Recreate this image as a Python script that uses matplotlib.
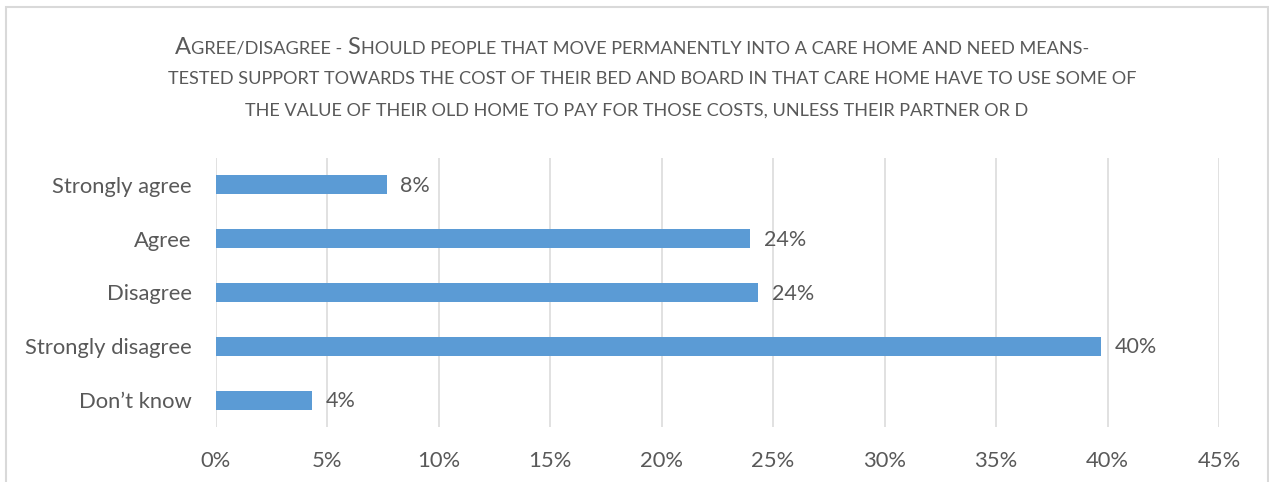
import matplotlib
matplotlib.use("Agg")
import matplotlib.pyplot as plt
from matplotlib.offsetbox import TextArea, HPacker, AnnotationBbox
from matplotlib.patches import Rectangle
from matplotlib.ticker import FuncFormatter, MultipleLocator

# Survey responses (share of respondents)
categories = ["Strongly agree", "Agree", "Disagree", "Strongly disagree", "Don\u2019t know"]
shares = [0.0767, 0.2398, 0.2432, 0.3970, 0.0433]

# Title runs: (text, is_capital) to imitate small caps
title_lines = [
    [("A", True), ("GREE/DISAGREE -", False), (" S", True),
     ("HOULD PEOPLE THAT MOVE PERMANENTLY INTO A CARE HOME AND NEED MEANS-", False)],
    [("TESTED SUPPORT TOWARDS THE COST OF THEIR BED AND BOARD IN THAT CARE HOME HAVE TO USE SOME OF", False)],
    [("THE VALUE OF THEIR OLD HOME TO PAY FOR THOSE COSTS, UNLESS THEIR PARTNER OR D", False)],
]

W, H, DPI = 1269, 482, 100
FONT = "Lato"
TEXT = "#595959"
BAR = "#5B9BD5"
GRID = "#D9D9D9"

plt.rcParams["font.family"] = [FONT, "DejaVu Sans"]

fig = plt.figure(figsize=(W / DPI, H / DPI), dpi=DPI)
fig.patch.set_facecolor("white")

# chart-area frame
fig.patches.append(Rectangle((6.5 / W, -0.1), (1267.5 - 6.5) / W, 1.1 - 7 / H,
                             transform=fig.transFigure, fill=False,
                             edgecolor=GRID, linewidth=1.5))

ax = fig.add_axes([215.5 / W, 1 - 427 / H, (1219 - 215.5) / W, (427 - 158) / H])
y = list(range(len(categories)))
bars = ax.barh(y, shares, height=0.35, color=BAR, zorder=3)
ax.set_ylim(len(categories) - 0.5, -0.5)
ax.set_xlim(0, 0.45)
ax.xaxis.set_major_locator(MultipleLocator(0.05))
ax.xaxis.set_major_formatter(FuncFormatter(lambda v, p: f"{v * 100:.0f}%"))
ax.set_yticks(y)
ax.set_yticklabels(categories)
ax.grid(axis="x", color=GRID, linewidth=1.1, zorder=0)
for s in ax.spines.values():
    s.set_visible(False)
ax.tick_params(axis="both", length=0, labelsize=15.8, labelcolor=TEXT)
ax.tick_params(axis="x", pad=17)
ax.tick_params(axis="y", pad=17)

for b, v in zip(bars, shares):
    ax.text(b.get_width() + 0.0062, b.get_y() + b.get_height() / 2 + 0.02,
            f"{v * 100:.0f}%", va="center", ha="left", fontsize=15.5, color=TEXT)

# small-caps title, one centred row per line
row_centres = [(632, 47), (652, 79), (637, 111)]
for line, (cx, cy) in zip(title_lines, row_centres):
    parts = [TextArea(t, textprops=dict(fontsize=17 if cap else 13.1, color=TEXT, family=FONT))
             for t, cap in line]
    row = HPacker(children=parts, align="baseline", pad=0, sep=0)
    fig.add_artist(AnnotationBbox(row, (cx / W, 1 - cy / H), xycoords="figure fraction",
                                  frameon=False, box_alignment=(0.5, 0.5)))

fig.savefig("out.png", dpi=DPI, facecolor="white")
